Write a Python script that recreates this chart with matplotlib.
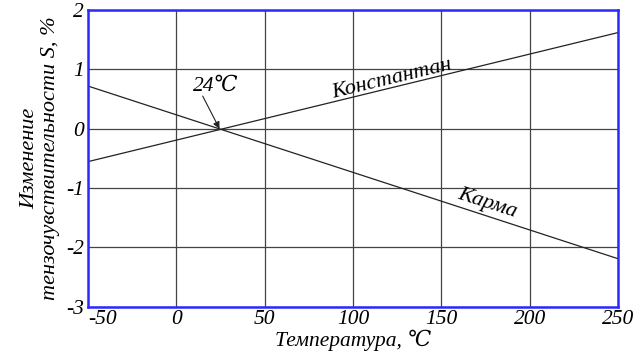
import numpy as np
import matplotlib
matplotlib.use("Agg")
import matplotlib.pyplot as plt

plt.rcParams['font.family'] = ['Liberation Serif', 'DejaVu Serif']
plt.rcParams['font.style'] = 'italic'

# data
temp = [-50, 250]
konstantan = [-0.555, 1.62]
karma = [0.72, -2.19]
xticks = [-50, 0, 50, 100, 150, 200, 250]
yticks = [-3, -2, -1, 0, 1, 2]
xtick_labels = ['-50', '0', '50', '100', '150', '200', '250']
ytick_labels = ['-3', '-2', '-1', '0', '1', '2']

fig = plt.figure(figsize=(6.36, 3.56), dpi=100)
ax = fig.add_axes([0.138, 0.138, 0.834, 0.834])

ax.plot(temp, konstantan, color='#222222', lw=0.9)
ax.plot(temp, karma, color='#222222', lw=0.9)

ax.set_xlim(-50, 250)
ax.set_ylim(-3, 2)
ax.set_xticks(xticks)
ax.set_yticks(yticks)
ax.set_xticklabels(xtick_labels)
ax.set_yticklabels(ytick_labels)
ax.grid(True, color='#444444', lw=0.9)
ax.tick_params(length=0, labelsize=15.5)
ax.tick_params(axis='x', pad=2)
ax.tick_params(axis='y', pad=3)
xl = ax.get_xticklabels()
xl[0].set_horizontalalignment('left')

for s in ax.spines.values():
    s.set_color('#2a2aff')
    s.set_linewidth(1.8)

ax.set_xlabel('Температура, ℃', fontsize=15.5, labelpad=1)
ax.set_ylabel('Изменение\nтензочувствительности S, %', fontsize=16,
              linespacing=1.15, labelpad=4)

ax.text(22.5, 0.71, '24℃', fontsize=15.5, ha='center', va='center')
ax.annotate('', xy=(24.5, 0.0), xytext=(15, 0.55),
            arrowprops=dict(arrowstyle='-|>', color='#222222', lw=0.8,
                            shrinkA=0, shrinkB=0, mutation_scale=10))

ax.text(122, 0.83, 'Константан', fontsize=16, rotation=13.6,
        ha='center', va='center', rotation_mode='anchor')
ax.text(176, -1.25, 'Карма', fontsize=16, rotation=-17.9,
        ha='center', va='center', rotation_mode='anchor')

fig.savefig('out.png', dpi=100)
